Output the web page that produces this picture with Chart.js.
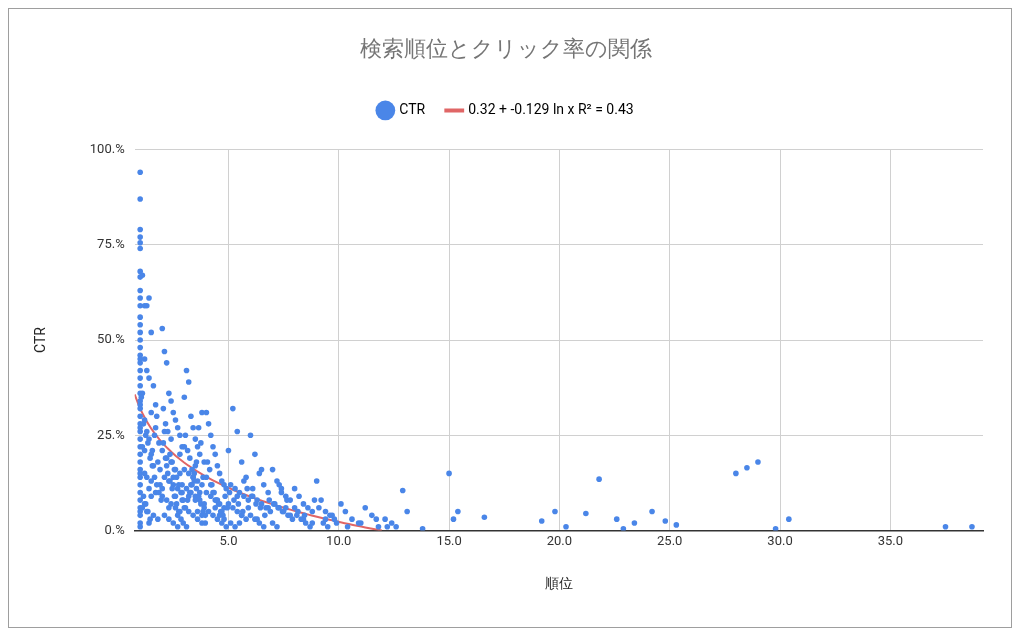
<!DOCTYPE html>
<html><head><meta charset="utf-8">
<script src="https://cdn.jsdelivr.net/npm/chart.js@4"></script>
<style>html,body{margin:0;background:#fff}#w{position:absolute;left:8px;top:8px;width:1004px;height:620px;border:1px solid #9e9e9e;box-sizing:border-box}canvas{display:block}</style>
</head><body><div id="w"><canvas id="c" width="1002" height="618"></canvas></div>
<script>
const xVals=[1,1,1,1,1,1,1,1,1,1,1,1,1,1,1,1,1,1,1,1,1,1,1,1,1,1,1,1,1,1,1,1,1,1,1,1,1,1,1,1,1,1,1,1,1,
1.1,1.2,1.3,1.4,1.5,1.2,1.3,1.1,1.4,1.6,1.5,1.7,1.2,1.3,1.4,1.1,1.5,1.8,1.6,1.2,1.3,1.9,1.4,1.7,1.5,1.2,1.1,1.3,1.6,1.8,1.4,1.5,1.9,1.2,1.7,
2,2.1,2.2,2.3,2.4,2.5,2.6,2.7,2.8,2.9,2,2.2,2.4,2.6,2.8,2.1,2.3,2.5,2.7,2.9,2,2.2,2.4,2.6,2.8,2.1,2.3,2.5,2.7,2.9,2.2,2.4,2.6,2.8,2.3,2.5,2.7,2.1,2.9,2.0,
3,3.1,3.2,3.3,3.4,3.5,3.6,3.7,3.8,3.9,3,3.2,3.4,3.6,3.8,3.1,3.3,3.5,3.7,3.9,3,3.2,3.4,3.6,3.8,3.1,3.3,3.5,3.7,3.9,3.2,3.4,3.6,3.8,3.0,3.5,
4,4.1,4.2,4.3,4.4,4.5,4.6,4.7,4.8,4.9,4,4.2,4.4,4.6,4.8,4.1,4.3,4.5,4.7,4.9,4,4.2,4.4,4.6,4.8,4.3,4.5,4.7,
5,5.2,5.4,5.6,5.8,5.1,5.3,5.5,5.7,5.9,5,5.2,5.4,5.6,5.8,5.1,5.3,5.5,5.7,5.9,5.4,5.6,
6,6.2,6.4,6.6,6.8,6.1,6.3,6.5,6.7,6.9,6,6.2,6.4,6.6,6.8,6.1,6.3,6.5,
7,7.2,7.4,7.6,7.8,7.1,7.3,7.5,7.7,7.9,7,7.2,7.4,7.6,7.8,7.3,
8,8.2,8.4,8.6,8.8,8.1,8.3,8.5,8.7,8.9,8,8.4,8.8,
9,9.2,9.4,9.6,9.8,9.1,9.3,9.5,9.7,9.9,9.4,
10.1,10.3,10.6,10.9,11.2,11.5,11.8,12.1,12.4,12.9,13.1,12.6,13.8,15,15.2,15.4,16.6,19.2,19.8,20.3,21.2,21.8,22.6,22.9,23.4,24.2,24.8,25.3,28,28.5,29,29.8,30.4,37.5,38.7,10.4,11,11.7,12.2,
1.15,1.25,1.35,1.45,1.55,1.65,1.75,1.85,1.95,1.05,1.15,1.25,1.35,1.45,1.55,1.65,1.75,1.85,2.05,2.15,2.25,2.35,2.45,2.55,2.65,2.75,2.85,2.95,2.05,2.15,2.25,2.35,2.45,2.55,2.65,2.75,2.85,2.95,
3.05,3.15,3.25,3.35,3.45,3.55,3.65,3.75,3.85,3.95,3.05,3.15,3.25,3.35,3.45,3.55,3.65,3.75,3.85,3.95,4.05,4.15,4.25,4.35,4.45,4.55,4.65,4.75,4.85,4.95,5.05,5.25,5.45,5.65,5.85,6.05,6.25,6.45,6.65,6.85,7.05,7.25,7.45,7.65,8.15,8.45];
const yVals=[0.94,0.87,0.79,0.77,0.755,0.74,0.68,0.665,0.63,0.61,0.59,0.56,0.54,0.52,0.50,0.48,0.46,0.44,0.42,0.40,0.38,0.36,0.34,0.32,0.30,0.28,0.26,0.24,0.22,0.20,0.18,0.16,0.14,0.12,0.10,0.08,0.06,0.04,0.02,0.01,0.45,0.33,0.27,0.15,0.05,
0.67,0.59,0.59,0.61,0.52,0.45,0.42,0.36,0.40,0.38,0.31,0.33,0.29,0.26,0.24,0.22,0.20,0.18,0.17,0.15,0.14,0.12,0.11,0.10,0.09,0.07,0.06,0.05,0.04,0.03,0.02,0.13,0.16,0.21,0.27,
0.53,0.47,0.44,0.36,0.34,0.31,0.29,0.27,0.25,0.22,0.21,0.19,0.18,0.16,0.15,0.14,0.13,0.12,0.11,0.10,0.09,0.08,0.07,0.06,0.05,0.04,0.03,0.02,0.01,0.12,0.17,0.24,0.09,0.2,0.06,0.14,0.04,0.26,0.08,0.11,
0.35,0.42,0.39,0.30,0.27,0.24,0.22,0.20,0.31,0.18,0.16,0.15,0.14,0.13,0.12,0.11,0.10,0.09,0.08,0.07,0.06,0.05,0.04,0.03,0.02,0.01,0.12,0.17,0.1,0.06,0.09,0.14,0.05,0.04,0.22,0.08,
0.31,0.28,0.25,0.22,0.20,0.17,0.15,0.13,0.12,0.11,0.10,0.09,0.08,0.07,0.06,0.05,0.04,0.03,0.02,0.01,0.14,0.12,0.06,0.04,0.03,0.1,0.08,0.05,
0.21,0.32,0.26,0.18,0.14,0.12,0.11,0.10,0.09,0.08,0.07,0.06,0.05,0.04,0.03,0.02,0.01,0.02,0.13,0.06,0.09,0.04,
0.25,0.20,0.15,0.12,0.10,0.09,0.08,0.07,0.06,0.05,0.04,0.03,0.02,0.01,0.06,0.11,0.03,0.16,
0.16,0.13,0.11,0.09,0.08,0.07,0.06,0.05,0.04,0.03,0.02,0.01,0.1,0.06,0.04,0.12,
0.11,0.09,0.07,0.06,0.05,0.04,0.03,0.02,0.01,0.08,0.06,0.03,0.02,
0.13,0.08,0.05,0.04,0.03,0.06,0.02,0.01,0.04,0.02,0.03,
0.07,0.05,0.03,0.02,0.06,0.04,0.01,0.03,0.02,0.105,0.05,0.01,0.005,0.15,0.03,0.05,0.035,0.025,0.05,0.01,0.045,0.135,0.03,0.005,0.02,0.05,0.025,0.015,0.15,0.165,0.18,0.005,0.03,0.01,0.01,0.01,0.02,0.03,0.01,
0.28,0.25,0.23,0.19,0.17,0.14,0.12,0.10,0.08,0.35,0.09,0.07,0.05,0.03,0.21,0.25,0.3,0.23,0.23,0.19,0.15,0.13,0.11,0.09,0.07,0.05,0.03,0.02,0.32,0.28,0.26,0.2,0.18,0.16,0.14,0.12,0.1,0.08,
0.25,0.21,0.19,0.16,0.13,0.11,0.09,0.07,0.05,0.04,0.06,0.08,0.1,0.12,0.15,0.18,0.27,0.23,0.14,0.02,0.18,0.16,0.12,0.1,0.08,0.07,0.05,0.04,0.09,0.06,0.1,0.08,0.07,0.05,0.11,0.09,0.07,0.06,0.04,0.08,0.07,0.06,0.05,0.08,0.05,0.04];
const trendA=0.32, trendB=-0.129;
const xMin=0.75, xMax=39.2;
const xTicks=[5,10,15,20,25,30,35];
const yTicks=[0,0.25,0.5,0.75,1];
const pts=xVals.map((x,i)=>({x,y:yVals[i]}));
const xEnd=Math.exp(-trendA/trendB);
const trend=[];for(let i=0;i<=60;i++){const x=xMin+(xEnd-xMin)*i/60;trend.push({x,y:trendA+trendB*Math.log(x)});}
Chart.defaults.font.family="Roboto, Arial, sans-serif";
new Chart(document.getElementById('c'),{type:'scatter',
data:{datasets:[{label:'CTR',data:pts,backgroundColor:'#4a86e8',borderColor:'#4a86e8',borderWidth:0,pointRadius:2.8,pointHoverRadius:2.8},
{label:'0.32 + -0.129 ln x R² = 0.43',type:'line',data:trend,borderColor:'#e06666',backgroundColor:'#e06666',borderWidth:2,pointRadius:0,fill:false}]},
options:{responsive:false,animation:false,
layout:{padding:{left:20,right:28,top:28,bottom:30}},
plugins:{title:{display:true,text:'検索順位とクリック率の関係',color:'#757575',font:{size:22,weight:'normal'},padding:{bottom:18}},
legend:{labels:{color:'#222',font:{size:14},boxHeight:14,
generateLabels(ch){return ch.data.datasets.map((d,i)=>({text:d.label,fillStyle:d.backgroundColor,strokeStyle:d.backgroundColor,lineWidth:i===0?0:4,pointStyle:i===0?'circle':'line',datasetIndex:i}));},usePointStyle:true,padding:22},padding:20},tooltip:{enabled:false}},
scales:{x:{type:'linear',min:xMin,max:xMax,afterBuildTicks(s){s.ticks=xTicks.map(v=>({value:v}));},
ticks:{color:'#333',font:{size:13},callback:v=>v.toFixed(1)},grid:{color:'#d0d0d0',drawTicks:false},border:{color:'#333',width:1.5},
title:{display:true,text:'順位',color:'#222',font:{size:14},padding:{top:24}}},
y:{min:0,max:1,afterBuildTicks(s){s.ticks=yTicks.map(v=>({value:v}));},
ticks:{color:'#333',font:{size:13},padding:10,callback:v=>(v*100)+'.%'},grid:{color:'#d0d0d0',drawTicks:false},border:{display:false},
title:{display:true,text:'CTR',color:'#222',font:{size:14},padding:{bottom:30}}}}},
plugins:[{id:'legendGap',beforeInit(ch){const f=ch.legend.fit;ch.legend.fit=function(){f.call(this);this.height+=22;};}}]});
</script></body></html>
